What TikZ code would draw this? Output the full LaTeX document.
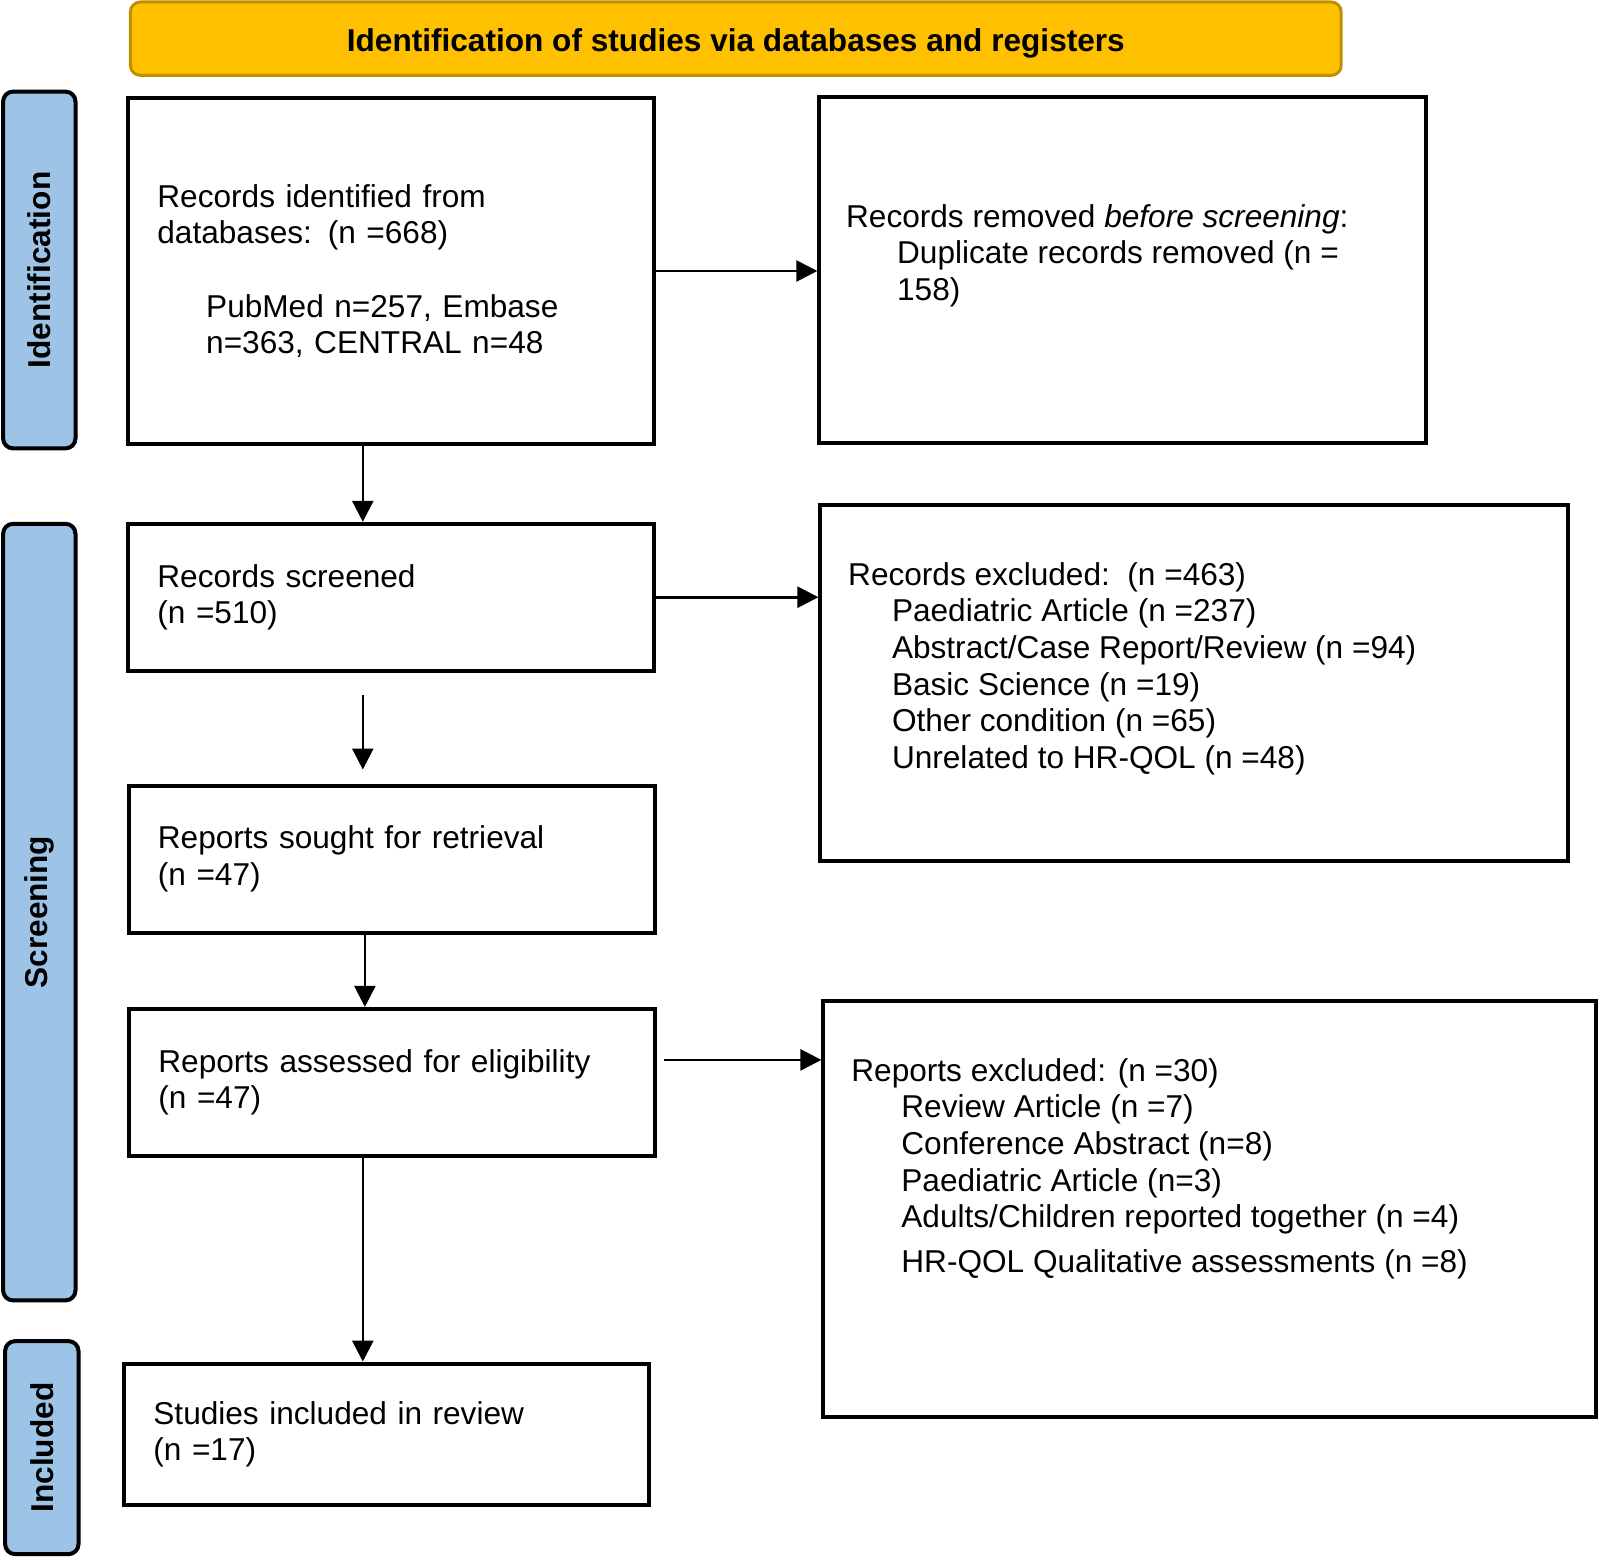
\documentclass[tikz,border=0pt]{standalone}
\usepackage{fontspec}
\setmainfont{Liberation Sans}
\usepackage{xcolor}
\usetikzlibrary{positioning,shapes,arrows.meta}
\definecolor{bannergold}{RGB}{255,192,0}
\definecolor{bannerline}{RGB}{191,144,0}
\definecolor{stageblue}{RGB}{157,195,230}

\begin{document}
\begin{tikzpicture}[x=0.5pt, y=-0.5pt, >={Triangle[length=10.5pt,width=10.5pt]},
  every node/.append style={font=\fontsize{15.8pt}{18.35pt}\selectfont},
  box/.style={draw=black, line width=2pt, inner xsep=14.5pt, inner ysep=0pt, align=left},
  boxtext/.style={anchor=west, align=left, inner sep=0pt},
  stage/.style={draw=black, line width=2pt, fill=stageblue, rounded corners=5pt, rotate=90, minimum height=36.2pt, font=\fontsize{15.8pt}{18.35pt}\selectfont\bfseries},
  flow/.style={->, line width=1.3pt}]
  \useasboundingbox (0,0) rectangle (1598,1556);
  \node [draw=bannerline, fill=bannergold, line width=1.5pt, rounded corners=5pt, minimum width=605.4pt, minimum height=36.7pt, text height=13.3pt, text depth=0pt, font=\fontsize{15.8pt}{18.35pt}\selectfont\bfseries] at (735.8,38.7) (banner) {Identification of studies via databases and registers};
  \node [stage, minimum width=178.4pt] at (39.3,270) (sideid) {Identification};
  \node [stage, minimum width=388.3pt] at (39.3,912.1) (sidescr) {Screening};
  \node [stage, minimum width=106.5pt, minimum height=36.7pt] at (41.8,1447.6) (sideinc) {Included};
  \node [box, text width=234pt, minimum height=173.2pt] at (391.4,271) (ident) {Records identified from\\databases: (n =668)\\[18.35pt]\hspace*{24.4pt}PubMed n=257, Embase\\\hspace*{24.4pt}n=363, CENTRAL n=48};
  \node [box, minimum width=303.2pt, minimum height=173.2pt] at (1122.5,270) (removed) {};
  \node [boxtext] at ([xshift=14.2pt,yshift=7.2pt]removed.west) (removedtxt) {Records removed \textit{before screening}:\\\hspace*{25.5pt}Duplicate records removed (n =\\\hspace*{25.5pt}158)};
  \node [box, text width=234pt, minimum height=73.4pt] at (391.4,597.2) (screen) {Records screened\\(n =510)};
  \node [box, minimum width=374pt, minimum height=178.3pt] at (1194.4,682.8) (excl) {};
  \node [boxtext] at ([xshift=14.7pt,yshift=7.1pt]excl.west) (excltxt) {Records excluded:\ \ (n =463)\\\hspace*{21.9pt}Paediatric Article (n =237)\\\hspace*{21.9pt}Abstract/Case Report/Review (n =94)\\\hspace*{21.9pt}Basic Science (n =19)\\\hspace*{21.9pt}Other condition (n =65)\\\hspace*{21.9pt}Unrelated to HR-QOL (n =48)};
  \node [box, text width=234pt, minimum height=73.4pt] at (391.9,859.1) (sought) {Reports sought for retrieval\\(n =47)};
  \node [box, text width=234pt, minimum height=73.4pt] at (392.4,1082.3) (assess) {Reports assessed for eligibility\\(n =47)};
  \node [box, minimum width=386.3pt, minimum height=207.9pt] at (1209.7,1208.7) (repexcl) {};
  \node [boxtext] at ([xshift=14.8pt,yshift=20pt]repexcl.west) (repexcltxt) {Reports excluded: (n =30)\\\hspace*{25pt}Review Article (n =7)\\\hspace*{25pt}Conference Abstract (n=8)\\\hspace*{25pt}Paediatric Article (n=3)\\\hspace*{25pt}Adults/Children reported together (n =4)\\[4.1pt]\hspace*{25pt}HR-QOL Qualitative assessments (n =8)};
  \node [box, text width=233.4pt, minimum height=70.8pt] at (386.8,1434.4) (incl) {Studies included in review\\(n =17)};
  \coordinate (gaptop) at ([xshift=-14.3pt,yshift=-11.2pt]screen.south);
  \coordinate (gapbot) at ([xshift=-14.5pt,yshift=7.1pt]sought.north);
  \coordinate (assessout) at ([xshift=3.5pt,yshift=11.2pt]assess.east);
  \draw [flow] (ident.east) -- (ident.east -| removed.west);
  \draw [flow] ([xshift=-14.3pt]ident.south) -- ([xshift=-14.3pt]screen.north);
  \draw [flow] (screen.east) -- (screen.east -| excl.west);
  \draw [flow] (gaptop) -- (gaptop |- gapbot);
  \draw [flow] ([xshift=-13.5pt]sought.south) -- ([xshift=-13.5pt]sought.south |- assess.north);
  \draw [flow] (assessout) -- (assessout -| repexcl.west);
  \draw [flow] ([xshift=-14.8pt]assess.south) -- ([xshift=-14.8pt]assess.south |- incl.north);
\end{tikzpicture}
\end{document}
